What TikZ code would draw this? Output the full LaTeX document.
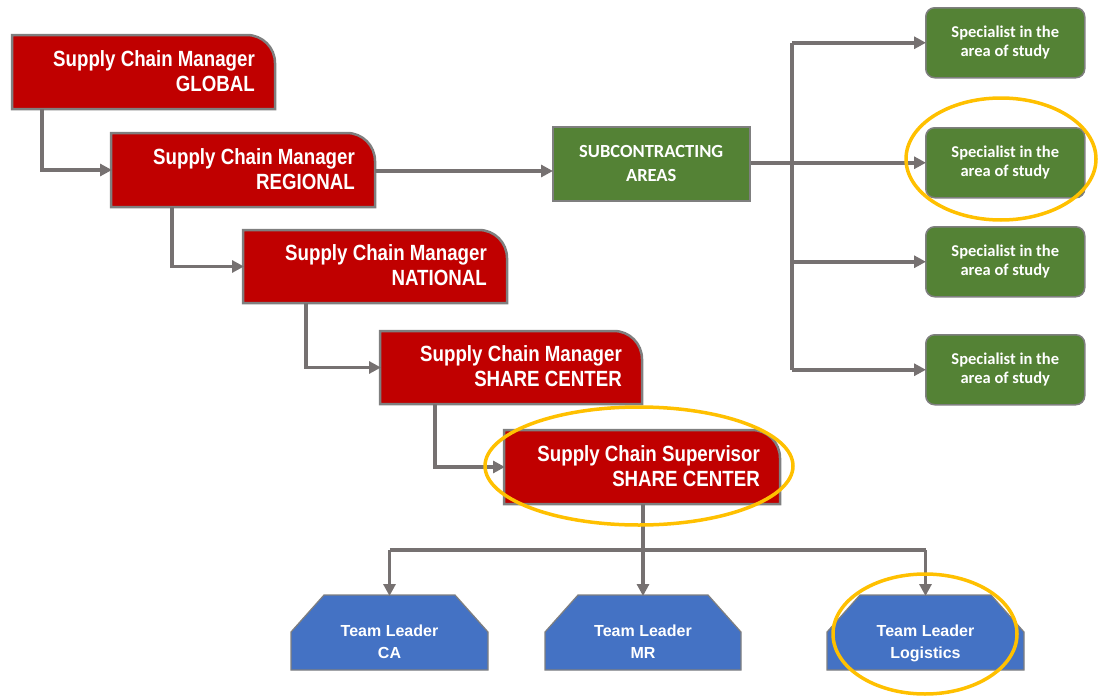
\documentclass[tikz,border=0pt]{standalone}
\usepackage{fontspec}
\usetikzlibrary{arrows.meta,fit,calc}

\newfontfamily\narrowsans[FakeStretch=0.85]{Liberation Sans}
\newfontfamily\armsans{Liberation Sans}
\newfontfamily\carlito{Carlito}

\definecolor{mgrred}{HTML}{C00000}
\definecolor{subgreen}{HTML}{548235}
\definecolor{leadblue}{HTML}{4472C4}
\definecolor{edgegrey}{HTML}{7F7F7F}
\definecolor{linkgrey}{HTML}{767171}
\definecolor{markgold}{HTML}{FFC000}

\tikzset{
  frame/.style={inner sep=0pt, outer sep=0pt, draw=none},
  mgrshape/.style={fill=mgrred, draw=edgegrey, line width=2.5pt},
  mgrtext/.style={text=white, align=right, inner sep=0pt, anchor=east,
    font=\narrowsans\bfseries\fontsize{22}{25}\selectfont},
  subbox/.style={fill=subgreen, draw=edgegrey, line width=1.5pt, align=center,
    text=white, inner sep=0pt, font=\carlito\bfseries\fontsize{18.5}{24}\selectfont},
  specbox/.style={fill=subgreen, draw=edgegrey, line width=1.5pt, rounded corners=9pt,
    align=center, text=white, inner sep=0pt, minimum width=159pt, minimum height=70pt,
    font=\carlito\bfseries\fontsize{16.5}{19.5}\selectfont},
  leadshape/.style={fill=leadblue, draw=edgegrey, line width=1.2pt},
  leadtext/.style={text=white, align=center, inner sep=0pt, anchor=north,
    font=\armsans\bfseries\fontsize{16}{22}\selectfont},
  link/.style={draw=linkgrey, line width=3.5pt},
  conn/.style={link, -{Triangle[length=12pt,width=12pt]}, shorten >=-1pt},
  ring/.style={draw=markgold, line width=3.5pt},
}

% manager box: name, left, top, right, bottom, text (top-right corner rounded)
\newcommand\mgrbox[6]{%
  \filldraw[mgrshape] (#2,-#5) -- (#2,-#3) -- (#4-28,-#3)
    arc[start angle=90,end angle=0,radius=28] -- (#4,-#5) -- cycle;
  \coordinate (#1-nw) at (#2,-#3);
  \coordinate (#1-se) at (#4,-#5);
  \node[frame, fit=(#1-nw)(#1-se)] (#1) {};
  \node[mgrtext] at ([xshift=-20pt,yshift=1pt]#1.east) {#6};
}

% team leader box: name, left, right, text (chamfered top corners)
\newcommand\leadbox[4]{%
  \filldraw[leadshape] (#2,-670) -- (#2,-632) -- (#2+33,-595)
    -- (#3-33,-595) -- (#3,-632) -- (#3,-670) -- cycle;
  \coordinate (#1-nw) at (#2,-595);
  \coordinate (#1-se) at (#3,-670);
  \node[frame, fit=(#1-nw)(#1-se)] (#1) {};
  \node[leadtext] at ([yshift=-30pt]#1.north) {#4};
}

\begin{document}
\begin{tikzpicture}[x=1pt,y=1pt]
\useasboundingbox (0,0) rectangle (1101,-696);

% management chain
\mgrbox{glob}{12}{35}{275}{109}{Supply Chain Manager\\GLOBAL}
\mgrbox{regi}{111}{133}{375}{207}{Supply Chain Manager\\REGIONAL}
\mgrbox{natl}{243}{230}{507}{303}{Supply Chain Manager\\NATIONAL}
\mgrbox{shcm}{380}{331}{642}{404}{Supply Chain Manager\\SHARE CENTER}
\mgrbox{shcs}{504}{430}{780}{504}{Supply Chain Supervisor\\SHARE CENTER}

\draw[conn] ([xshift=30pt]glob.south west) |- (regi.west);
\draw[conn] ([xshift=61pt]regi.south west) |- (natl.west);
\draw[conn] ([xshift=63pt]natl.south west) |- (shcm.west);
\draw[conn] ([xshift=55pt]shcm.south west) |- (shcs.west);

% subcontracting branch
\node[subbox, minimum width=197pt, minimum height=74pt, anchor=north west]
  (sub) at (552,-126) {SUBCONTRACTING\\AREAS};
\draw[conn] (regi.east |- 0,-171) -- (sub.west |- 0,-171);

\node[specbox, anchor=north west] (sp1) at (925,-7)   {Specialist in the\\area of study};
\node[specbox, anchor=north west] (sp2) at (925,-127) {Specialist in the\\area of study};
\node[specbox, anchor=north west] (sp3) at (925,-226) {Specialist in the\\area of study};
\node[specbox, anchor=north west] (sp4) at (925,-334) {Specialist in the\\area of study};

\coordinate (bus) at (792,0);
\draw[link] (sub.east |- sp2.west) -- (bus |- sp2.west);
\draw[link] (bus |- sp1.west) -- (bus |- sp4.west);
\draw[conn] (bus |- sp1.west) -- (sp1.west);
\draw[conn] (bus |- sp2.west) -- (sp2.west);
\draw[conn] (bus |- sp3.west) -- (sp3.west);
\draw[conn] (bus |- sp4.west) -- (sp4.west);

% team leaders
\leadbox{tlca}{291}{488}{Team Leader\\CA}
\leadbox{tlmr}{545}{741}{Team Leader\\MR}
\leadbox{tllg}{827}{1024}{Team Leader\\Logistics}

\coordinate (hub) at (643,-550);
\draw[link] (hub |- shcs.south) -- (hub);
\draw[link] (tlca.north |- hub) -- (tllg.north |- hub);
\draw[conn] (tlca.north |- hub) -- (tlca.north);
\draw[conn] (hub) -- (hub |- tlmr.north);
\draw[conn] (tllg.north |- hub) -- (tllg.north);

% highlight rings
\draw[ring] (1001,-159) ellipse [x radius=95, y radius=61];
\draw[ring] (639,-466) ellipse [x radius=154, y radius=59];
\draw[ring] (925,-634) ellipse [x radius=92, y radius=60];
\end{tikzpicture}
\end{document}
